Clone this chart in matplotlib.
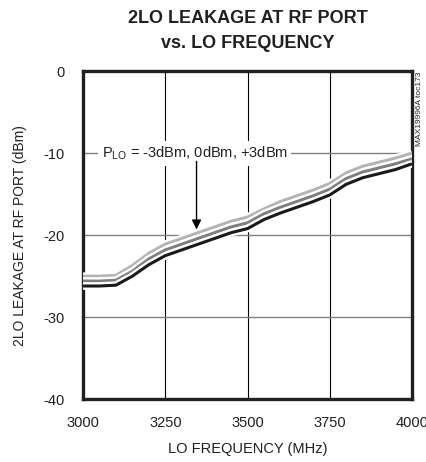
import matplotlib.pyplot as plt
import matplotlib.patheffects as pe

plt.rcParams['font.family'] = ['Liberation Sans', 'DejaVu Sans']
plt.rcParams['axes.unicode_minus'] = False

# LO frequency (MHz)
freq = [3000, 3050, 3100, 3150, 3200, 3250, 3300, 3350, 3400, 3450, 3500,
        3550, 3600, 3650, 3700, 3750, 3800, 3850, 3900, 3950, 4000]

# 2LO leakage (dBm) for PLO = -3, 0, +3 dBm
leak_m3 = [-26.2, -26.2, -26.1, -25.0, -23.6, -22.5, -21.8, -21.1, -20.4, -19.7, -19.2,
           -18.1, -17.3, -16.6, -15.9, -15.1, -13.8, -13.0, -12.5, -12.0, -11.3]
leak_0 = [-25.6, -25.6, -25.5, -24.4, -22.9, -21.8, -21.1, -20.4, -19.7, -19.0, -18.5,
          -17.4, -16.6, -15.9, -15.2, -14.4, -13.1, -12.3, -11.8, -11.3, -10.7]
leak_p3 = [-25.0, -25.0, -24.9, -23.7, -22.2, -21.1, -20.4, -19.7, -19.0, -18.3, -17.8,
           -16.8, -15.9, -15.2, -14.5, -13.7, -12.4, -11.6, -11.1, -10.6, -10.0]

xticks = [3000, 3250, 3500, 3750, 4000]
yticks = [0, -10, -20, -30, -40]

fig = plt.figure(figsize=(4.26, 4.62), dpi=100)
ax = fig.add_axes([0.195, 0.136, 0.772, 0.710])

# grid: vertical black, horizontal gray
for x in xticks[1:-1]:
    ax.axvline(x, color='black', lw=0.8, zorder=1)
for y in yticks[1:-1]:
    ax.axhline(y, color='#808080', lw=1.0, zorder=1)

halo = [pe.withStroke(linewidth=5.5, foreground='white')]
for vals, col in [(leak_p3, '#b4b4b4'), (leak_0, '#7f7f7f'), (leak_m3, '#1a1a1a')]:
    ax.plot(freq, vals, color=col, lw=2.2, path_effects=halo, zorder=3,
            solid_capstyle='butt')

# annotation
ax.text(3340, -10, 'P$_{\\mathregular{LO}}$ = -3dBm, 0dBm, +3dBm', ha='center', va='center',
        fontsize=10.5, zorder=5, color='#231f20',
        bbox=dict(facecolor='white', edgecolor='none', pad=2.5))
ax.annotate('', xy=(3345, -19.3), xytext=(3345, -11.0),
            arrowprops=dict(arrowstyle='-|>', color='black', lw=1.0,
                            mutation_scale=14, shrinkA=0, shrinkB=0), zorder=5)

ax.set_xlim(3000, 4000)
ax.set_ylim(-40, 0)
ax.set_xticks(xticks)
ax.set_yticks(yticks)
ax.tick_params(length=0, labelsize=10.5, colors='#231f20')
ax.tick_params(axis='y', pad=13)
ax.tick_params(axis='x', pad=12)
for s in ax.spines.values():
    s.set_linewidth(2.4)
    s.set_color('#231f20')

ax.set_xlabel('LO FREQUENCY (MHz)', fontsize=10.5, color='#231f20', labelpad=9)
ax.set_ylabel('2LO LEAKAGE AT RF PORT (dBm)', fontsize=10, color='#231f20', labelpad=12)
ax.set_title('2LO LEAKAGE AT RF PORT\nvs. LO FREQUENCY', fontsize=13, fontweight='bold',
             color='#231f20', pad=17, linespacing=1.55)

fig.text(0.985, 0.846, 'MAX19996A toc173', rotation=90, ha='center', va='top',
         fontsize=6, color='#231f20')

fig.savefig('out.png', dpi=100)
